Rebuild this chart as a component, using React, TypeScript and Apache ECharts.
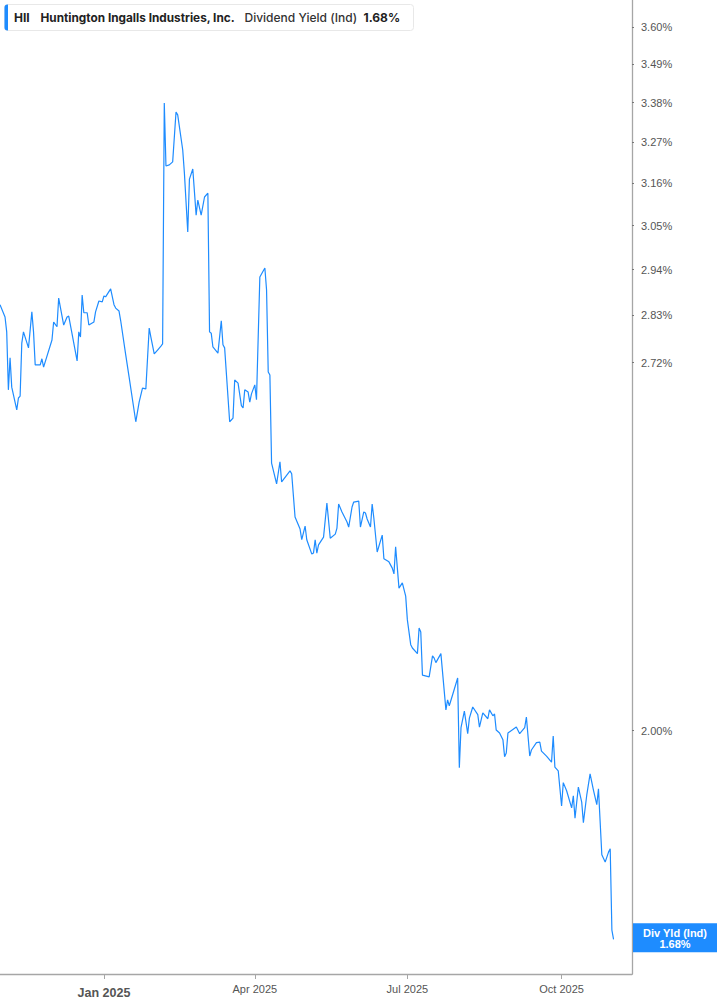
import React, { useEffect, useRef } from "react";
import * as echarts from "echarts";

const dates: string[] = [
  "2024-10-31","2024-11-03","2024-11-04","2024-11-05","2024-11-06","2024-11-07","2024-11-10","2024-11-11","2024-11-12","2024-11-13",
  "2024-11-14","2024-11-17","2024-11-19","2024-11-20","2024-11-21","2024-11-24","2024-11-25","2024-11-26","2024-12-01","2024-12-02",
  "2024-12-04","2024-12-05","2024-12-08","2024-12-10","2024-12-11","2024-12-16","2024-12-17","2024-12-18","2024-12-19","2024-12-20",
  "2024-12-22","2024-12-23","2024-12-26","2024-12-27","2024-12-29","2024-12-31","2025-01-01","2025-01-02","2025-01-05","2025-01-07",
  "2025-01-08","2025-01-10","2025-01-11","2025-01-14","2025-01-16","2025-01-20","2025-01-22","2025-01-24","2025-01-26","2025-01-28",
  "2025-01-29","2025-01-31","2025-02-02","2025-02-04","2025-02-05",
  "2025-02-06","2025-02-07","2025-02-09","2025-02-11","2025-02-13","2025-02-14","2025-02-17","2025-02-18","2025-02-20","2025-02-21",
  "2025-02-23","2025-02-25","2025-02-26","2025-02-28","2025-03-02","2025-03-04","2025-03-05","2025-03-06","2025-03-07","2025-03-10",
  "2025-03-12","2025-03-13","2025-03-14","2025-03-17","2025-03-19","2025-03-20","2025-03-22","2025-03-24","2025-03-25","2025-03-26",
  "2025-03-28","2025-03-29","2025-03-30","2025-04-01","2025-04-02","2025-04-04","2025-04-07","2025-04-08","2025-04-09","2025-04-10",
  "2025-04-11","2025-04-14","2025-04-16","2025-04-17","2025-04-22","2025-04-23","2025-04-25","2025-04-28","2025-04-29","2025-05-01",
  "2025-05-02","2025-05-05","2025-05-06","2025-05-07","2025-05-08","2025-05-09","2025-05-12","2025-05-14","2025-05-16","2025-05-19",
  "2025-05-20","2025-05-21","2025-05-23","2025-05-26","2025-05-27","2025-05-29","2025-05-30","2025-06-02","2025-06-03","2025-06-05",
  "2025-06-06","2025-06-07","2025-06-09","2025-06-10","2025-06-11","2025-06-13","2025-06-16","2025-06-17","2025-06-20","2025-06-22",
  "2025-06-23","2025-06-24","2025-06-26","2025-06-28","2025-06-30","2025-07-01","2025-07-03","2025-07-04","2025-07-07","2025-07-08",
  "2025-07-09","2025-07-10","2025-07-14","2025-07-16","2025-07-17","2025-07-18","2025-07-21",
  "2025-07-24","2025-07-25","2025-07-26","2025-07-28","2025-07-31","2025-08-01","2025-08-02","2025-08-04","2025-08-06","2025-08-07",
  "2025-08-09","2025-08-12","2025-08-13","2025-08-15","2025-08-18","2025-08-19","2025-08-21","2025-08-22","2025-08-23","2025-08-25",
  "2025-08-27","2025-08-28","2025-08-29","2025-08-30","2025-09-04","2025-09-06","2025-09-09","2025-09-10","2025-09-12","2025-09-13",
  "2025-09-16","2025-09-18","2025-09-19","2025-09-22","2025-09-25","2025-09-26","2025-09-27","2025-09-29","2025-10-01","2025-10-02",
  "2025-10-04","2025-10-07","2025-10-08","2025-10-09","2025-10-11","2025-10-13","2025-10-14","2025-10-16","2025-10-18","2025-10-20",
  "2025-10-22","2025-10-23","2025-10-25","2025-10-27","2025-10-29","2025-10-30","2025-10-31","2025-11-01",
];

const yields: number[] = [
  2.855,2.826,2.791,2.659,2.731,2.665,2.615,2.641,2.645,2.765,
  2.791,2.754,2.838,2.791,2.715,2.715,2.729,2.710,2.772,2.814,
  2.803,2.871,2.807,2.826,2.828,2.724,2.791,2.779,2.878,2.836,
  2.836,2.807,2.814,2.838,2.864,2.862,2.876,2.874,2.893,2.855,
  2.847,2.840,2.817,2.738,2.688,2.589,2.632,2.663,2.661,2.800,
  2.779,2.740,2.749,2.758,2.763,
  3.379,3.206,3.209,3.217,3.354,3.346,3.249,3.187,3.034,3.171,
  3.198,3.077,3.116,3.077,3.124,3.134,2.791,2.788,2.756,2.742,
  2.817,2.761,2.754,2.589,2.597,2.681,2.674,2.624,2.619,2.659,
  2.654,2.632,2.650,2.670,2.637,2.922,2.944,2.891,2.699,2.692,
  2.501,2.458,2.504,2.462,2.485,2.479,2.391,2.367,2.346,2.373,
  2.346,2.318,2.320,2.346,2.320,2.336,2.351,2.419,2.349,2.357,
  2.369,2.417,2.401,2.381,2.371,2.411,2.421,2.423,2.371,2.401,
  2.399,2.387,2.371,2.417,2.389,2.322,2.355,2.309,2.303,2.291,
  2.280,2.332,2.253,2.263,2.238,2.194,2.149,2.143,2.133,2.179,
  2.172,2.095,2.092,2.129,2.125,2.117,2.133,
  2.035,2.052,2.042,2.061,2.090,1.939,2.005,2.033,1.995,2.021,
  2.040,2.027,2.006,2.030,2.020,2.035,2.025,2.028,2.001,1.996,
  1.985,1.957,1.963,1.996,2.006,1.995,2.005,2.023,1.958,1.968,
  1.980,1.981,1.966,1.958,1.948,1.991,1.940,1.934,1.878,1.915,
  1.902,1.875,1.894,1.859,1.908,1.884,1.852,1.895,1.929,1.903,
  1.880,1.905,1.803,1.792,1.807,1.812,1.693,1.68,
];

const yTickLabels: number[] = [3.6, 3.49, 3.38, 3.27, 3.16, 3.05, 2.94, 2.83, 2.72, 2.0];
const xTickLabels: string[] = ["2025-01-01", "2025-04-01", "2025-07-01", "2025-10-01"];
const monthNames = ["Jan","Feb","Mar","Apr","May","Jun","Jul","Aug","Sep","Oct","Nov","Dec"];

const X_MIN = "2024-10-31";
const X_MAX = "2025-11-12";
const Y_MIN_PCT = 1.632;
const Y_MAX_PCT = 3.683;

const BLUE = "#1e8cff";
const parseDate = (s: string) => {
  const [y, m, d] = s.split("-").map(Number);
  return new Date(y, m - 1, d).getTime();
};

export default function App() {
  const ref = useRef<HTMLDivElement>(null);
  useEffect(() => {
    if (!ref.current) return;
    document.body.style.margin = "0";
    const chart = echarts.init(ref.current, null, { renderer: "svg" });
    const last = yields[yields.length - 1];
    const seriesData = dates.map((d, i) => [parseDate(d), Math.log(yields[i])]);
    const font = "'Liberation Sans', Arial, sans-serif";
    chart.setOption({
      animation: false,
      backgroundColor: "#ffffff",
      grid: { left: 0, right: 85, top: 0, bottom: 31, containLabel: false },
      xAxis: {
        type: "value",
        scale: true,
        min: parseDate(X_MIN),
        max: parseDate(X_MAX),
        axisLine: { show: true, lineStyle: { color: "#a6a6a6", width: 1.3 } },
        axisTick: {
          show: true,
          length: 5,
          lineStyle: { color: "#a6a6a6" },
          customValues: xTickLabels.map(parseDate),
        },
        splitLine: { show: false },
        axisLabel: {
          customValues: xTickLabels.map(parseDate),
          margin: 9,
          hideOverlap: false,
          formatter: (v: number) => {
            const d = new Date(v);
            const t = monthNames[d.getMonth()] + " " + d.getFullYear();
            return d.getMonth() === 0 ? "{b|" + t + "}" : "{n|" + t + "}";
          },
          rich: {
            b: { fontFamily: font, fontSize: 12.5, fontWeight: "bold", color: "#555555", padding: [3, 0, 0, 0] },
            n: { fontFamily: font, fontSize: 11, color: "#555555" },
          },
        },
      },
      yAxis: {
        type: "value",
        position: "right",
        scale: true,
        min: Math.log(Y_MIN_PCT),
        max: Math.log(Y_MAX_PCT),
        axisLine: { show: true, lineStyle: { color: "#a6a6a6", width: 1.3 } },
        axisTick: {
          show: true,
          length: 2,
          lineStyle: { color: "#777777" },
          customValues: yTickLabels.map((v) => Math.log(v)),
        },
        splitLine: { show: false },
        axisLabel: {
          customValues: yTickLabels.map((v) => Math.log(v)),
          margin: 9,
          hideOverlap: false,
          color: "#555555",
          fontFamily: font,
          fontSize: 11,
          formatter: (v: number) => Math.exp(v).toFixed(2) + "%",
        },
      },
      series: [
        {
          type: "line",
          data: seriesData,
          showSymbol: false,
          symbol: "none",
          lineStyle: { color: BLUE, width: 1.2 },
          markLine: {
            silent: true,
            symbol: "none",
            lineStyle: { color: "rgba(0,0,0,0)", width: 0, type: "solid" },
            data: [{ yAxis: Math.log(last) }],
            label: {
              show: true,
              position: "end",
              distance: 1,
              backgroundColor: BLUE,
              padding: [4, 10, 3, 10],
              formatter: "{a|Div Yld (Ind)}\n{a|" + last.toFixed(2) + "%}",
              rich: {
                a: { width: 64, align: "center", color: "#ffffff", fontFamily: font, fontSize: 11, fontWeight: "bold", lineHeight: 11 },
              },
            },
          },
        },
      ],
      graphic: [
        {
          type: "group",
          left: 4,
          top: 4,
          children: [
            { type: "rect", shape: { x: 0, y: 0, width: 409, height: 26, r: 3 }, style: { fill: "#ffffff", stroke: "#e8e8e8", lineWidth: 1 } },
            { type: "rect", shape: { x: 0, y: 0, width: 3.5, height: 26, r: [3, 0, 0, 3] }, style: { fill: BLUE } },
            { type: "text", x: 9.5, y: 13, style: { text: "HII", fill: "#222222", font: "bold 12px Inter, 'Liberation Sans', Arial", verticalAlign: "middle" } },
            { type: "text", x: 36, y: 13, style: { text: "Huntington Ingalls Industries, Inc.", fill: "#222222", font: "bold 11.8px Inter, 'Liberation Sans', Arial", verticalAlign: "middle" } },
            { type: "text", x: 240, y: 13, style: { text: "Dividend Yield (Ind)", fill: "#333333", font: "500 12px Inter, 'Liberation Sans', Arial", verticalAlign: "middle" } },
            { type: "text", x: 359, y: 13, style: { text: last.toFixed(2) + "%", fill: "#222222", font: "bold 12px Inter, 'Liberation Sans', Arial", verticalAlign: "middle" } },
          ],
        },
      ],
    });
    return () => chart.dispose();
  }, []);
  return <div ref={ref} style={{ position: "absolute", left: 0, top: 0, width: 717, height: 1005 }} />;
}
